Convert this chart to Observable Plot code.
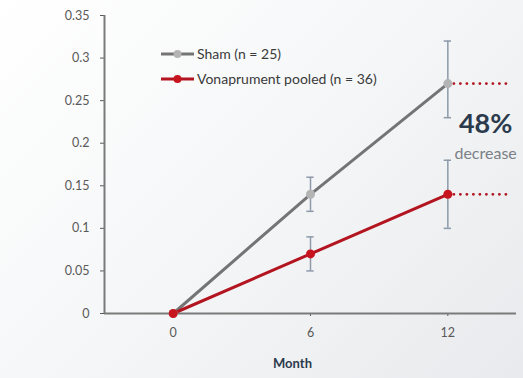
<!DOCTYPE html>
<html><head><meta charset="utf-8">
<script src="https://cdn.jsdelivr.net/npm/d3@7"></script>
<script src="https://cdn.jsdelivr.net/npm/@observablehq/plot@0.6"></script>
<style>
html,body{margin:0;padding:0}
body{width:523px;height:378px;overflow:hidden;font-family:Lato,"Open Sans",sans-serif;
  background:linear-gradient(135deg,#ffffff 0%,#f6f7f8 45%,#e8eaed 100%)}
#wrap{position:relative;width:523px;height:378px}
#wrap svg.plot{position:absolute;left:0;top:0;background:transparent;font-family:Lato,"Open Sans",sans-serif}
#legend{position:absolute;left:161px;top:41px;font-size:14px;color:#3a3a3a}
#legend .row{display:flex;align-items:center;height:25px}
#legend svg{margin-right:3px}
</style></head>
<body><div id="wrap"><div id="legend"></div></div>
<script>
const months = [0, 6, 12];
const seriesNames = ["Sham (n = 25)", "Vonaprument pooled (n = 36)"];
const shamMean = [0, 0.14, 0.27];
const shamLow = [0, 0.12, 0.23];
const shamHigh = [0, 0.16, 0.32];
const vonaMean = [0, 0.07, 0.14];
const vonaLow = [0, 0.05, 0.10];
const vonaHigh = [0, 0.09, 0.18];
const yTicks = [0, 0.05, 0.1, 0.15, 0.2, 0.25, 0.3, 0.35];
const xTicks = [0, 6, 12];
const annotationLabel = "decrease";
const xAxisLabel = "Month";

const lineColors = ["#747474", "#b31520"];
const dotColors = ["#b4b4b4", "#c8141f"];
const errColor = "#8c9aaa";
const xDomain = [-3, 15];
const capHalf = 0.16;

const sham = months.map((m, i) => ({month: m, mean: shamMean[i], low: shamLow[i], high: shamHigh[i]}));
const vona = months.map((m, i) => ({month: m, mean: vonaMean[i], low: vonaLow[i], high: vonaHigh[i]}));
const errs = [...sham, ...vona].filter(d => d.high > d.low);
const lastSham = sham[sham.length - 1], lastVona = vona[vona.length - 1];
const pct = Math.round((lastSham.mean - lastVona.mean) / lastSham.mean * 100) + "%";

const fmt = d => String(+d.toFixed(2));

const chart = Plot.plot({
  width: 523, height: 378,
  marginLeft: 104, marginRight: 7, marginTop: 15, marginBottom: 65,
  style: {background: "transparent", fontFamily: "Lato, 'Open Sans', sans-serif"},
  x: {domain: xDomain},
  y: {domain: [0, 0.35]},
  marks: [
    Plot.axisY({ticks: yTicks, tickFormat: fmt, tickSize: 4, tickPadding: 11, fontSize: 12.5, color: "#595959", label: null}),
    Plot.axisX({ticks: xTicks, tickSize: 3, tickPadding: 12, fontSize: 12.5, color: "#595959", label: null}),
    Plot.ruleX([xDomain[0]], {stroke: "#7a7a7a", strokeWidth: 2}),
    Plot.ruleY([0], {stroke: "#7a7a7a", strokeWidth: 2}),
    Plot.line(sham, {x: "month", y: "mean", stroke: lineColors[0], strokeWidth: 3}),
    Plot.line(vona, {x: "month", y: "mean", stroke: lineColors[1], strokeWidth: 3}),
    Plot.ruleY([lastSham, lastVona], {y: "mean", x1: lastSham.month, x2: 14.65, stroke: lineColors[1], strokeWidth: 2.8, strokeDasharray: "0.1 6.4", strokeLinecap: "round"}),
    Plot.ruleX(errs, {x: "month", y1: "low", y2: "high", stroke: errColor, strokeWidth: 1.5}),
    Plot.ruleY(errs, {y: "low", x1: d => d.month - capHalf, x2: d => d.month + capHalf, stroke: errColor, strokeWidth: 1.5}),
    Plot.ruleY(errs, {y: "high", x1: d => d.month - capHalf, x2: d => d.month + capHalf, stroke: errColor, strokeWidth: 1.5}),
    Plot.dot(sham, {x: "month", y: "mean", r: 4.5, fill: dotColors[0]}),
    Plot.dot(vona, {x: "month", y: "mean", r: 4.5, fill: dotColors[1]}),
    Plot.text([pct], {x: 13.65, y: 0.222, text: d => d, fontSize: 27, fontWeight: "bold", fill: "#2b3a4c"}),
    Plot.text([annotationLabel], {x: 13.65, y: 0.188, text: d => d, fontSize: 16, fill: "#7b8087"}),
    Plot.text([xAxisLabel], {frameAnchor: "bottom", dx: -18, dy: 54, text: d => d, fontSize: 13, fontWeight: "bold", fill: "#2b3a4c"})
  ]
});
document.getElementById("wrap").appendChild(chart);

const legend = document.getElementById("legend");
seriesNames.forEach((name, i) => {
  const row = document.createElement("div");
  row.className = "row";
  row.innerHTML = `<svg width="33" height="10"><line x1="0" y1="5" x2="33" y2="5" stroke="${lineColors[i]}" stroke-width="3"/><circle cx="16.5" cy="5" r="4" fill="${dotColors[i]}"/></svg><span>${name}</span>`;
  legend.appendChild(row);
});
</script></body></html>
